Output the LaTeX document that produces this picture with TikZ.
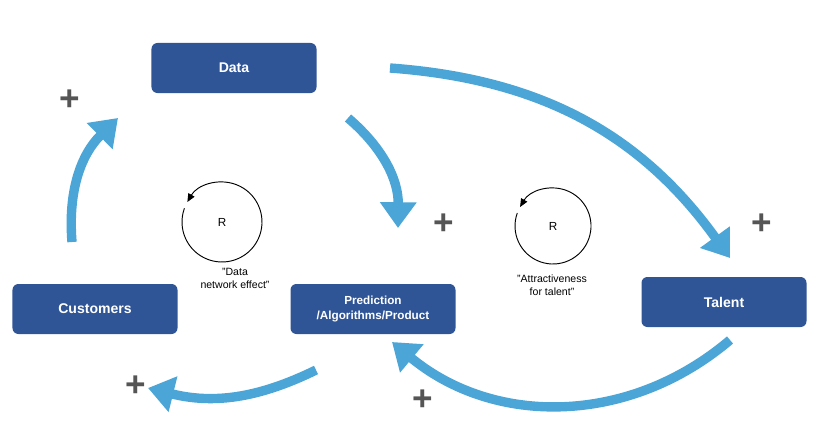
\documentclass[tikz,border=0pt]{standalone}
\usepackage{fontspec}
\setmainfont{Liberation Sans}
\usetikzlibrary{arrows.meta,positioning}
\definecolor{boxblue}{HTML}{2F5597}
\definecolor{flowblue}{HTML}{4BA5D6}
\definecolor{plusgray}{HTML}{555555}
\tikzset{
  box/.style={draw=none, fill=boxblue, rounded corners=5pt, text=white, font=\bfseries\large, minimum width=4.95cm, minimum height=1.5cm, align=center},
  flow/.style={flowblue, line width=8pt, -{Triangle[width=30pt,length=22pt]}},
  plus/.style={text=plusgray, font=\bfseries\fontsize{30}{30}\selectfont},
  loop/.style={line width=0.8pt, -{Triangle[width=6pt,length=7pt]}},
  note/.style={font=\small, align=center}
}
\begin{document}
\begin{tikzpicture}[x=0.03cm,y=-0.03cm]
    \useasboundingbox (0,0) rectangle (820,423);

    \node [box] (data) at (234,68) {Data};
    \node [box] (cust) at (95,309) {Customers};
    \node [box, font=\bfseries] (pred) at (373,309) {Prediction\\/Algorithms/Product};
    \node [box] (talent) at (724,302) {Talent};

    \coordinate (dt1) at (390,68);
    \coordinate (dt2) at (730,258);
    \coordinate (dp1) at (348,118);
    \coordinate (dp2) at (398,228);
    \coordinate (cd1) at (72,242);
    \coordinate (cd2) at (118,118);
    \coordinate (pc1) at (316,370);
    \coordinate (pc2) at (148,388);
    \coordinate (tp1) at (730,340);
    \coordinate (tp2) at (392,342);

    \draw [flow] (dt1) to [bend left=25] (dt2);
    \draw [flow] (dp1) to [bend left=25] (dp2);
    \draw [flow] (cd1) to [bend left=25] (cd2);
    \draw [flow] (pc1) to [bend right=-20] (pc2);
    \draw [flow] (tp1) to [bend left=40] (tp2);

    \node [plus] (p1) at (70,100) {+};
    \node [plus] (p2) at (444,224) {+};
    \node [plus] (p3) at (762,224) {+};
    \node [plus] (p4) at (136,386) {+};
    \node [plus] (p5) at (423,400) {+};

    % reinforcing loops
    \draw [loop] (222,222) ++(200:40) arc [start angle=200, end angle=-150, radius=40];
    \node (r1) at (222,222) {R};
    \node [note] (n1) at (235,278) {"Data\\network effect"};

    \draw [loop] (553,226) ++(200:38) arc [start angle=200, end angle=-150, radius=38];
    \node (r2) at (553,226) {R};
    \node [note] (n2) at (552,285) {"Attractiveness\\for talent"};
\end{tikzpicture}
\end{document}
